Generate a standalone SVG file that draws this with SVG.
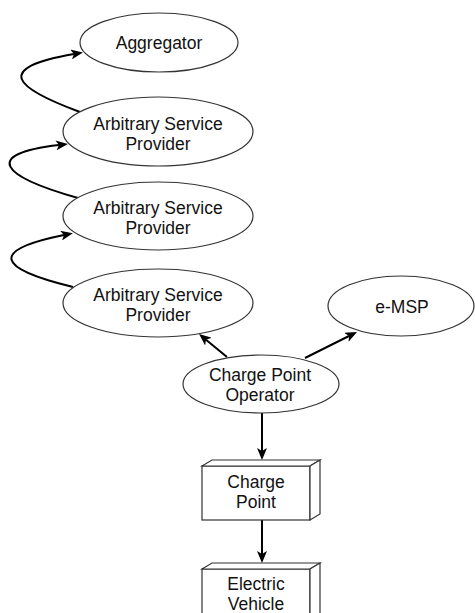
<svg xmlns="http://www.w3.org/2000/svg" width="475" height="613" viewBox="0 0 475 613">
  <defs>
    <marker id="arrow" viewBox="0 0 12 10" refX="3" refY="5" markerWidth="12" markerHeight="10" markerUnits="userSpaceOnUse" orient="auto">
      <path d="M0,0 L12,5 L0,10 L3,5 Z" fill="#000"/>
    </marker>
    <style>
      .shape { fill: #fff; stroke: #333; stroke-width: 1.2; }
      .label { font-family: "Liberation Sans", Arial, Helvetica, sans-serif; font-size: 17.5px; fill: #111; text-anchor: middle; }
      .edge { fill: none; stroke: #000; stroke-width: 2; marker-end: url(#arrow); }
    </style>
  </defs>

  <rect width="475" height="613" fill="#fff"/>

  <!-- connectors -->
  <g id="connectors">
    <path class="edge" d="M80,112 C15,88 -8,68 74,54"/>
    <path class="edge" d="M78,198 C0,176 -18,154 59,145"/>
    <path class="edge" d="M73,287 C-5,268 -10,250 64,235"/>
    <path class="edge" d="M227,357 L206,339.7"/>
    <path class="edge" d="M305,358 L349,336"/>
    <path class="edge" d="M262,413 L262,451"/>
    <path class="edge" d="M262,520 L262,554"/>
  </g>

  <!-- nodes -->
  <g id="aggregator">
    <ellipse class="shape" cx="159" cy="42.5" rx="79" ry="29.5"/>
    <text class="label" x="159" y="49">Aggregator</text>
  </g>

  <g id="asp-1">
    <ellipse class="shape" cx="158" cy="131.5" rx="95" ry="34.5"/>
    <text class="label" x="158" y="130">Arbitrary Service</text>
    <text class="label" x="158" y="150">Provider</text>
  </g>

  <g id="asp-2">
    <ellipse class="shape" cx="158" cy="216" rx="95" ry="34"/>
    <text class="label" x="158" y="214">Arbitrary Service</text>
    <text class="label" x="158" y="234">Provider</text>
  </g>

  <g id="asp-3">
    <ellipse class="shape" cx="158" cy="303" rx="95" ry="34"/>
    <text class="label" x="158" y="301">Arbitrary Service</text>
    <text class="label" x="158" y="321">Provider</text>
  </g>

  <g id="emsp">
    <ellipse class="shape" cx="401" cy="306" rx="73" ry="30"/>
    <text class="label" x="402" y="313">e-MSP</text>
  </g>

  <g id="cpo">
    <ellipse class="shape" cx="261" cy="384" rx="78" ry="29"/>
    <text class="label" x="260" y="381">Charge Point</text>
    <text class="label" x="260" y="401">Operator</text>
  </g>

  <g id="charge-point">
    <rect class="shape" x="202" y="466" width="108" height="54"/>
    <path class="shape" d="M202,466 L212,460 L320,460 L310,466 Z"/>
    <path class="shape" d="M310,466 L320,460 L320,514 L310,520 Z"/>
    <text class="label" x="256" y="488">Charge</text>
    <text class="label" x="256" y="508">Point</text>
  </g>

  <g id="electric-vehicle">
    <rect class="shape" x="202" y="569" width="108" height="54"/>
    <path class="shape" d="M202,569 L212,563 L320,563 L310,569 Z"/>
    <path class="shape" d="M310,569 L320,563 L320,617 L310,623 Z"/>
    <text class="label" x="256" y="590">Electric</text>
    <text class="label" x="256" y="610">Vehicle</text>
  </g>
</svg>
